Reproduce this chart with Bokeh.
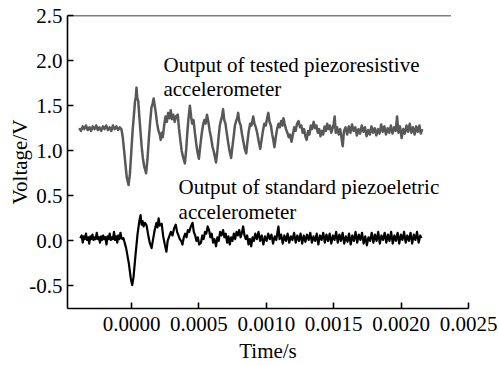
import numpy as np
from bokeh.plotting import figure
from bokeh.models import FixedTicker, PrintfTickFormatter, Label, Range1d
from bokeh.embed import file_html
from bokeh.resources import INLINE

# ---- data (time in microseconds, voltage in V) ----
tested_t_us = [
    -388, -375, -362, -350, -338, -325, -312, -300, -288, -275, -262, -250, -238, -225,
    -212, -200, -188, -175, -162, -150, -138, -125, -112, -100, -88, -75, -65, -55, -45,
    -35, -22, -12, -2, 8, 18, 26, 32, 37, 43, 50, 58, 66, 75, 84, 95, 108, 118, 128, 138,
    148, 156, 164, 172, 180, 190, 200, 210, 216, 225, 232, 242, 252, 262, 272, 282, 291,
    300, 310, 320, 330, 343, 352, 362, 372, 384, 396, 406, 414, 422, 433, 442, 450, 460,
    470, 480, 490, 500, 510, 520, 530, 540, 550, 560, 570, 580, 590, 600, 612, 627, 637,
    646, 655, 664, 672, 679, 688, 697, 706, 716, 727, 739, 749, 758, 767, 776, 784, 791,
    800, 810, 820, 830, 840, 851, 860, 870, 880, 890, 903, 912, 922, 932, 944, 955, 965,
    975, 985, 996, 1006, 1015, 1024, 1034, 1044, 1052, 1060, 1070, 1080, 1090, 1100, 1110,
    1120, 1127, 1136, 1146, 1156, 1166, 1176, 1187, 1197, 1207, 1217, 1228, 1239, 1250,
    1260, 1270, 1280, 1290, 1299, 1310, 1320, 1330, 1340, 1351, 1362, 1372, 1382, 1392,
    1402, 1412, 1422, 1432, 1442, 1452, 1462, 1472, 1482, 1492, 1500, 1507, 1515, 1525,
    1537, 1548, 1558, 1567, 1576, 1588, 1600, 1612, 1624, 1636, 1648, 1660, 1672, 1684,
    1696, 1708, 1720, 1732, 1744, 1756, 1768, 1780, 1792, 1804, 1816, 1828, 1840, 1852,
    1864, 1876, 1888, 1900, 1912, 1924, 1936, 1948, 1960, 1970, 1980, 1992, 2004, 2016,
    2028, 2040, 2052, 2064, 2076, 2088, 2100, 2112, 2124, 2136, 2146, 2157,
]
tested_v = [
    1.25, 1.22, 1.27, 1.24, 1.28, 1.23, 1.26, 1.22, 1.27, 1.24, 1.28, 1.23, 1.26, 1.22,
    1.27, 1.24, 1.28, 1.23, 1.26, 1.22, 1.28, 1.24, 1.27, 1.23, 1.26, 1.24, 1.15, 1.00, 0.85,
    0.70, 0.62, 0.74, 0.98, 1.22, 1.40, 1.55, 1.60, 1.70, 1.58, 1.55, 1.38, 1.22, 1.05, 0.92, 0.82, 0.75, 0.90, 1.12, 1.32,
    1.48, 1.52, 1.58, 1.50, 1.42, 1.30, 1.22, 1.18, 1.12, 1.20, 1.15, 1.28, 1.38, 1.32, 1.42, 1.36, 1.45,
    1.35, 1.40, 1.32, 1.38, 1.40, 1.25, 1.12, 1.00, 0.92, 0.86, 1.02, 1.20, 1.35, 1.50, 1.38, 1.30, 1.34,
    1.20, 1.08, 0.98, 0.91, 1.05, 1.18, 1.28, 1.34, 1.30, 1.40, 1.32, 1.22, 1.15, 1.05, 0.98, 0.87, 1.00,
    1.15, 1.28, 1.34, 1.38, 1.46, 1.34, 1.30, 1.20, 1.10, 1.00, 0.92, 1.05, 1.16, 1.28, 1.33, 1.36, 1.42,
    1.32, 1.28, 1.18, 1.10, 1.02, 0.97, 1.10, 1.22, 1.30, 1.28, 1.38, 1.30, 1.26, 1.20, 1.10, 1.02, 1.12,
    1.22, 1.30, 1.28, 1.36, 1.42, 1.32, 1.28, 1.18, 1.12, 1.04, 1.15, 1.24, 1.30, 1.26, 1.33,
    1.28, 1.36, 1.30, 1.24, 1.20, 1.15, 1.18, 1.10, 1.18, 1.26, 1.22, 1.30, 1.33, 1.26,
    1.28, 1.20, 1.24, 1.16, 1.12, 1.22, 1.18, 1.28, 1.24, 1.32, 1.25, 1.28, 1.20, 1.24,
    1.16, 1.22, 1.18, 1.27, 1.22, 1.30, 1.24, 1.28, 1.20, 1.25, 1.30, 1.38, 1.20, 1.26,
    1.18, 1.24, 1.14, 1.05, 1.22, 1.26, 1.18, 1.27, 1.20, 1.29, 1.22, 1.26, 1.17, 1.24,
    1.19, 1.28, 1.21, 1.26, 1.16, 1.23, 1.18, 1.27, 1.20, 1.25, 1.17, 1.24, 1.19, 1.29,
    1.21, 1.27, 1.18, 1.25, 1.20, 1.28, 1.19, 1.26, 1.22, 1.38, 1.20, 1.27, 1.14, 1.24,
    1.19, 1.28, 1.21, 1.30, 1.20, 1.26, 1.18, 1.27, 1.21, 1.28, 1.19, 1.24,
]

standard_t_us = [
    -380, -370, -362, -354, -346, -338, -330, -322, -314, -306, -298, -290, -282, -274,
    -266, -258, -250, -242, -234, -226, -218, -210, -202, -194, -186, -178, -170, -162,
    -154, -146, -138, -130, -122, -114, -106, -98, -90, -82, -74, -66, -60, -40, -20, -5,
    5, 15, 30, 45, 58, 67, 75, 82, 90, 100, 112, 122, 135, 149, 160, 172, 185, 193, 201,
    210, 224, 235, 247, 259, 268, 280, 292, 304, 316, 328, 338, 348, 358, 368, 378, 388,
    398, 408, 418, 428, 440, 453, 462, 472, 482, 492, 502, 515, 525, 535, 545, 555, 565,
    575, 585, 595, 605, 615, 627, 637, 647, 657, 667, 679, 689, 699, 709, 719, 729, 739,
    749, 759, 769, 779, 789, 799, 809, 819, 828, 838, 848, 858, 868, 878, 888, 898, 908,
    918, 930, 942, 954, 966, 978, 990, 1002, 1014, 1026, 1038, 1050, 1062, 1074, 1082,
    1090, 1098, 1110, 1122, 1134, 1146, 1158, 1170, 1182, 1194, 1206, 1218, 1230, 1242,
    1254, 1266, 1278, 1290, 1302, 1314, 1326, 1338, 1350, 1362, 1374, 1386, 1398, 1410,
    1422, 1434, 1446, 1458, 1470, 1482, 1494, 1506, 1518, 1530, 1542, 1554, 1566, 1578,
    1590, 1602, 1614, 1626, 1638, 1650, 1662, 1674, 1686, 1698, 1710, 1722, 1734, 1746,
    1758, 1770, 1782, 1794, 1806, 1818, 1830, 1842, 1854, 1866, 1878, 1890, 1902, 1914,
    1926, 1938, 1950, 1962, 1974, 1986, 1998, 2010, 2022, 2034, 2046, 2058, 2070, 2082,
    2094, 2106, 2118, 2130, 2142, 2150,
]
standard_v = [
    0.03, 0.06, -0.02, 0.05, 0.02, 0.08, 0.01, 0.04, -0.03, 0.05, 0.02, 0.07, 0.01, 0.04,
    0.02, 0.09, 0.02, 0.04, -0.02, 0.05, 0.01, 0.06, 0.02, 0.04, -0.04, 0.05, 0.02, 0.08,
    0.01, 0.04, 0.02, 0.10, 0.01, 0.05, -0.02, 0.06, 0.02, 0.09, 0.03, 0.02, 0.03, -0.08, -0.25, -0.42,
    -0.49, -0.40, -0.15, 0.08, 0.22, 0.285, 0.18, 0.22, 0.16, 0.20, 0.17, 0.08, -0.02, -0.08, 0.02, 0.12, 0.20, 0.15, 0.25,
    0.17, 0.19, 0.05, -0.04, -0.12, 0.00, 0.05, 0.10, 0.06, 0.14, 0.18, 0.10, 0.06, 0.02, 0.00, -0.04, 0.04,
    0.08, 0.04, 0.12, 0.10, 0.16, 0.20, 0.10, 0.06, 0.00, 0.04, -0.04, -0.02, 0.06, 0.02, 0.10, 0.08, 0.16,
    0.12, 0.04, 0.08, -0.02, 0.02, -0.06, 0.04, 0.00, 0.10, 0.06, 0.12, 0.04, 0.08, -0.02, 0.05, -0.04, 0.04,
    0.00, 0.08, 0.02, 0.10, 0.06, 0.12, 0.04, 0.09, 0.16, 0.06, 0.02, 0.06, -0.04, 0.02, -0.06, 0.04, 0.00,
    0.08, 0.02, 0.10, 0.00, 0.06, -0.04, 0.05, 0.00, 0.08, 0.02, 0.07, -0.03, 0.05, 0.01, 0.09,
    0.16, 0.02, 0.07, -0.03, 0.06, 0.00, 0.08, -0.02, 0.05, 0.01, 0.09, -0.02, 0.06, 0.00,
    0.08, -0.03, 0.06, -0.01, 0.07, 0.01, 0.09, -0.02, 0.05, 0.00, 0.08, -0.04, 0.06, 0.01,
    0.09, -0.02, 0.07, 0.00, 0.08, -0.03, 0.06, 0.01, 0.10, -0.02, 0.07, 0.00, 0.09, -0.03,
    0.05, -0.01, 0.08, -0.04, 0.06, 0.00, 0.10, -0.02, 0.07, 0.01, 0.09, -0.03, 0.05, -0.05,
    0.04, 0.00, 0.09, -0.02, 0.07, 0.00, 0.10, -0.03, 0.06, 0.01, 0.09, -0.02, 0.07, 0.00,
    0.10, -0.03, 0.06, 0.00, 0.09, -0.03, 0.07, 0.01, 0.10, -0.02, 0.06, 0.00, 0.09, -0.03,
    0.07, 0.01, 0.10, -0.02, 0.06, 0.03,
]

x_ticks = [0.0, 0.0005, 0.0010, 0.0015, 0.0020, 0.0025]
y_ticks = [-0.5, 0.0, 0.5, 1.0, 1.5, 2.0, 2.5]

label_tested = ["Output of tested piezoresistive", "accelerometer"]
label_standard = ["Output of  standard piezoeletric", "accelerometer"]

FONT = "Liberation Serif"
FS = "21px"

tested_t = np.array(tested_t_us) * 1e-6
standard_t = np.array(standard_t_us) * 1e-6

p = figure(width=498, height=365, output_backend="svg", toolbar_location=None,
           x_range=Range1d(-0.000475, 0.0025), y_range=Range1d(-0.75, 2.5),
           min_border_left=67, min_border_right=30, min_border_top=15, min_border_bottom=55)
p.outline_line_color = None
p.grid.grid_line_color = None
p.background_fill_color = "white"

p.line(tested_t, tested_v, line_color="#585858", line_width=2.5, line_join="round")
p.line(standard_t, standard_v, line_color="black", line_width=2.2, line_join="round")

# top frame line (stops short of the right end, as in the original)
p.segment(x0=[-0.000475], y0=[2.5], x1=[0.00237], y1=[2.5], line_color="black", line_width=1.6)

for ax in (p.xaxis[0], p.yaxis[0]):
    ax.major_tick_in = 6
    ax.major_tick_out = 0
    ax.minor_tick_line_color = None
    ax.axis_line_width = 1.6
    ax.major_tick_line_width = 1.6
    ax.axis_line_color = "black"
    ax.major_tick_line_color = "black"
    ax.major_label_text_font = FONT
    ax.major_label_text_font_size = FS
    ax.major_label_text_color = "black"
    ax.axis_label_text_font = FONT
    ax.axis_label_text_font_size = FS
    ax.axis_label_text_font_style = "normal"
    ax.axis_label_text_color = "black"

p.xaxis.ticker = FixedTicker(ticks=x_ticks)
p.yaxis.ticker = FixedTicker(ticks=y_ticks)
p.xaxis.formatter = PrintfTickFormatter(format="%.4f")
p.yaxis.formatter = PrintfTickFormatter(format="%.1f")
p.xaxis.axis_label = "Time/s"
p.yaxis.axis_label = "Voltage/V"
p.xaxis.major_label_standoff = 8
p.xaxis.axis_label_standoff = 5
p.yaxis.major_label_standoff = 5
p.yaxis.axis_label_standoff = -6

# annotations (data coordinates)
for txt, yv in zip(label_tested, [1.956, 1.68]):
    p.add_layout(Label(x=0.000237, y=yv, text=txt, text_font=FONT, text_font_size=FS,
                       text_baseline="middle", text_align="left", text_color="black"))
for txt, yv in zip(label_standard, [0.593, 0.319]):
    p.add_layout(Label(x=0.000349, y=yv, text=txt, text_font=FONT, text_font_size=FS,
                       text_baseline="middle", text_align="left", text_color="black"))

open("out.html", "w").write(file_html(p, INLINE))
